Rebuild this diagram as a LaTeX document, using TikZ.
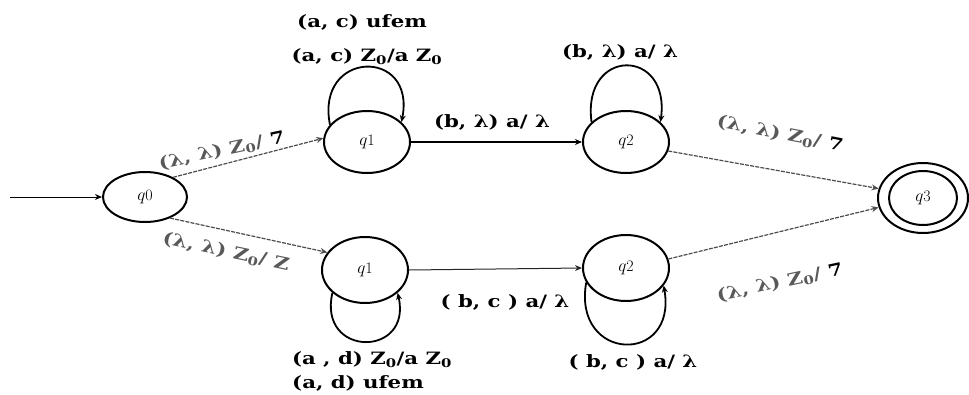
\documentclass[tikz,border=0pt]{standalone}
\usepackage{fontspec}
\newfontfamily\labfont[FakeStretch=1.25]{DejaVu Serif}
\usetikzlibrary{shapes.geometric,arrows.meta}
\begin{document}
\begin{tikzpicture}[x=1pt,y=-1pt,
  state/.style={ellipse, draw, line width=2pt, minimum width=86pt, minimum height=62pt, inner sep=0pt, font=\fontsize{16}{18}\selectfont},
  lab/.style={font=\labfont\bfseries\fontsize{17}{19}\selectfont, inner sep=1pt},
  glab/.style={lab, text=black!65},
  edge/.style={-{Stealth[length=7pt,width=6pt]}, line width=1pt},
  diag/.style={edge, draw=black!70, line width=1.2pt, dash pattern=on 4pt off 1.2pt},
  loopedge/.style={edge, line width=1.8pt}]
\useasboundingbox (0,0) rectangle (969,394);

% states
\node[state, minimum width=84pt, minimum height=50pt] (q0) at (145,197) {$q$0};
\node[state] (q1) at (367,142) {$q$1};
\node[state] (q2) at (626,142) {$q$2};
\node[state, minimum height=66pt] (q1b) at (365,270) {$q$1};
\node[state, minimum height=66pt] (q2b) at (626,268) {$q$2};
\node[state, minimum width=68pt, minimum height=54pt] (q3) at (923,198) {$q$3};
\node[ellipse, draw, line width=2pt, minimum width=90pt, minimum height=70pt, inner sep=0pt] (q3o) at (q3) {};

% initial arrow
\coordinate (start) at (10,197);
\draw[edge] (start) -- (q0.west);

% transitions
\draw[diag] (q0.35) -- (q1.175);
\draw[diag] (q0.-40) -- (q1b.155);
\draw[edge, line width=1.6pt] (q1) -- (q2);
\draw[edge, draw=black!85] (q1b.east) -- (q2b.west);
\draw[diag] (q2.-12) -- (q3o.168);
\draw[diag] (q2b.12) -- (q3o.-168);

% loops
\draw[loopedge] (q1.155) .. controls +(-15,-75) and +(15,-75) .. (q1.30);
\draw[loopedge] (q2.150) .. controls +(-10,-75) and +(10,-75) .. (q2.30);
\draw[loopedge] (q1b.215) .. controls +(-15,65) and +(15,65) .. (q1b.-35);
\draw[loopedge] (q2b.200) .. controls +(-14,80) and +(14,80) .. (q2b.-25);

% labels
\node[glab, rotate=12] (l1) at (222,151) {(λ, λ) Z\textsubscript{0}/ \textcolor{black}{7}};
\node[glab, rotate=-12] (l2) at (226,252) {(λ, λ) Z\textsubscript{0}/ Z};
\node[lab] (l3a) at (362,22) {(a, c) ufem};
\node[lab] (l3b) at (367,57) {(a, c) Z\textsubscript{0}/a Z\textsubscript{0}};
\node[lab] (l4) at (492,122) {(b, λ) a/ λ};
\node[lab] (l5) at (620,52) {(b, λ) a/ λ};
\node[glab, rotate=-11] (l6) at (780,134) {(λ, λ) Z\textsubscript{0}/ \textcolor{black}{7}};
\node[glab, rotate=12] (l7) at (780,283) {(λ, λ) Z\textsubscript{0}/ \textcolor{black}{7}};
\node[lab] (l8) at (505,302) {( b, c ) a/ λ};
\node[lab] (l9) at (633,362) {( b, c ) a/ λ};
\node[lab] (l10a) at (372,360) {(a , d) Z\textsubscript{0}/a Z\textsubscript{0}};
\node[lab] (l10b) at (358,383) {(a, d) ufem};
\end{tikzpicture}
\end{document}
